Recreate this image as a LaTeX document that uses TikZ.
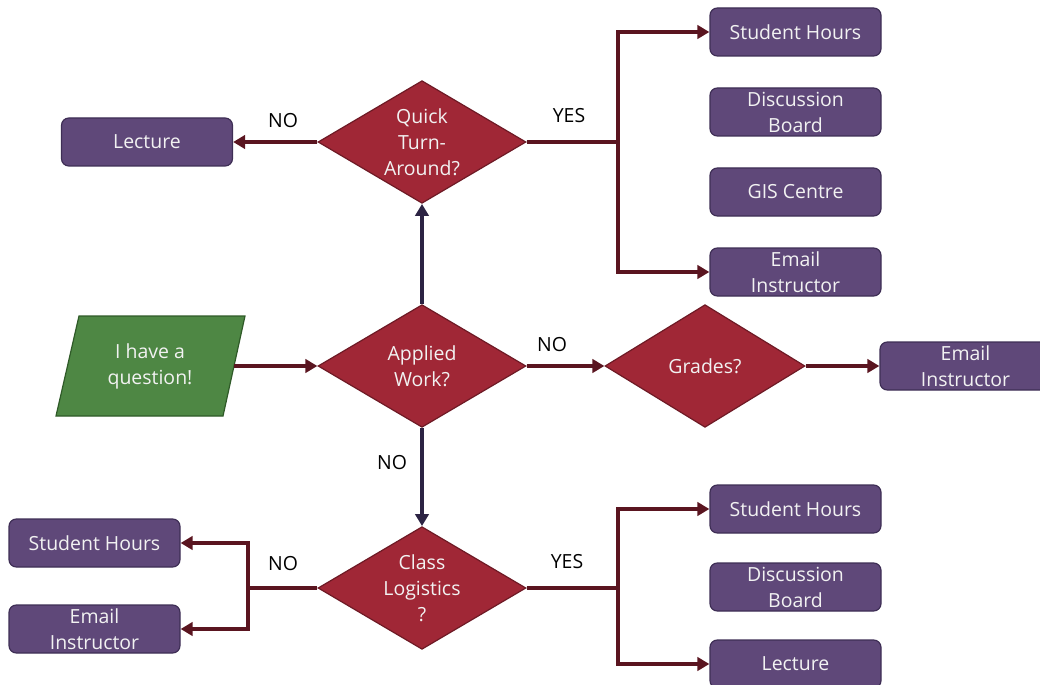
\documentclass[tikz,border=0pt]{standalone}
\usepackage{fontspec}
\setmainfont{Open Sans}
\usetikzlibrary{shapes.geometric,arrows.meta}
\definecolor{boxfill}{HTML}{5F4879}
\definecolor{boxline}{HTML}{3E2E55}
\definecolor{dfill}{HTML}{A02736}
\definecolor{dline}{HTML}{6E1A25}
\definecolor{gfill}{HTML}{4E8744}
\definecolor{gline}{HTML}{2F5A28}
\definecolor{maroon}{HTML}{5A1520}
\definecolor{navy}{HTML}{2C2343}
\definecolor{txt}{HTML}{F2F2F2}
\tikzset{
  optbox/.style={draw=boxline, fill=boxfill, line width=0.9pt, rounded corners=5.5pt,
    minimum width=128.25pt, minimum height=36pt, inner sep=0pt, text=txt,
    align=center, font=\fontsize{14.6}{19.5}\selectfont},
  decision/.style={draw=dline, fill=dfill, line width=0.9pt, diamond,
    minimum width=156pt, minimum height=92pt, inner sep=0pt},
  dtext/.style={text=txt, align=center, font=\fontsize{14.6}{19.5}\selectfont},
  startshape/.style={draw=gline, fill=gfill, line width=0.9pt},
  lab/.style={text=black, font=\fontsize{14.6}{16}\selectfont},
  conn/.style={draw=maroon, line width=3pt, -{Triangle[length=9pt,width=10pt]}},
  connv/.style={draw=navy, line width=3pt, -{Triangle[length=9pt,width=10pt]}},
  seg/.style={draw=maroon, line width=3pt},
}
\begin{document}
\begin{tikzpicture}[x=0.75pt,y=-0.75pt]
\useasboundingbox (0,0) rectangle (1040,685);
% decisions
\node[decision] (qd) at (422,142) {};
\node[dtext] (qt) at (422,142) {Quick\\Turn-\\Around?};
\node[decision] (ad) at (422,366) {};
\node[dtext] (at) at (422,366) {Applied\\Work?};
\node[decision] (cd) at (422,588) {};
\node[dtext] (ct) at (422,588) {Class\\Logistics\\?};
\node[decision, minimum width=150pt] (gd) at (705,366) {};
\node[dtext] (gt) at (705,366) {Grades?};
% start (parallelogram)
\draw[startshape] (79,316) -- (245,316) -- (223,416) -- (56,416) -- cycle;
\node[dtext] (st) at (150,366) {I have a\\question!};
\coordinate (ste) at (234,366);
% boxes
\node[optbox] (lec1) at (147,142) {Lecture};
\node[optbox] (sh1) at (795.5,32) {Student Hours};
\node[optbox] (db1) at (795.5,112) {Discussion\\Board};
\node[optbox] (gis) at (795.5,192) {GIS Centre};
\node[optbox] (ei1) at (795.5,272) {Email\\Instructor};
\node[optbox] (ei2) at (965.5,366) {Email\\Instructor};
\node[optbox] (sh2) at (94.5,543) {Student Hours};
\node[optbox] (ei3) at (94.5,629) {Email\\Instructor};
\node[optbox] (sh3) at (795.5,509) {Student Hours};
\node[optbox] (db3) at (795.5,587) {Discussion\\Board};
\node[optbox] (lec3) at (795.5,664) {Lecture};
% junction points
\coordinate (tq) at (618,142);
\coordinate (tc) at (618,588);
\coordinate (tn) at (248,588);
% connectors
\draw[conn] (ste) -- (ad.west);
\draw[connv] (ad.north) -- (qd.south);
\draw[connv] (ad.south) -- (cd.north);
\draw[conn] (qd.west) -- (lec1.east);
\draw[seg] (qd.east) -- (tq);
\draw[conn] (tq) |- (sh1.west);
\draw[conn] (tq) |- (ei1.west);
\draw[conn] (ad.east) -- (gd.west);
\draw[conn] (gd.east) -- (ei2.west);
\draw[seg] (cd.east) -- (tc);
\draw[conn] (tc) |- (sh3.west);
\draw[conn] (tc) |- (lec3.west);
\draw[seg] (cd.west) -- (tn);
\draw[conn] (tn) |- (sh2.east);
\draw[conn] (tn) |- (ei3.east);
% labels
\node[lab] (l1) at (283,121) {NO};
\node[lab] (l2) at (569,116) {YES};
\node[lab] (l3) at (552,345) {NO};
\node[lab] (l4) at (392,463) {NO};
\node[lab] (l5) at (567,562) {YES};
\node[lab] (l6) at (283,564) {NO};
\end{tikzpicture}
\end{document}
